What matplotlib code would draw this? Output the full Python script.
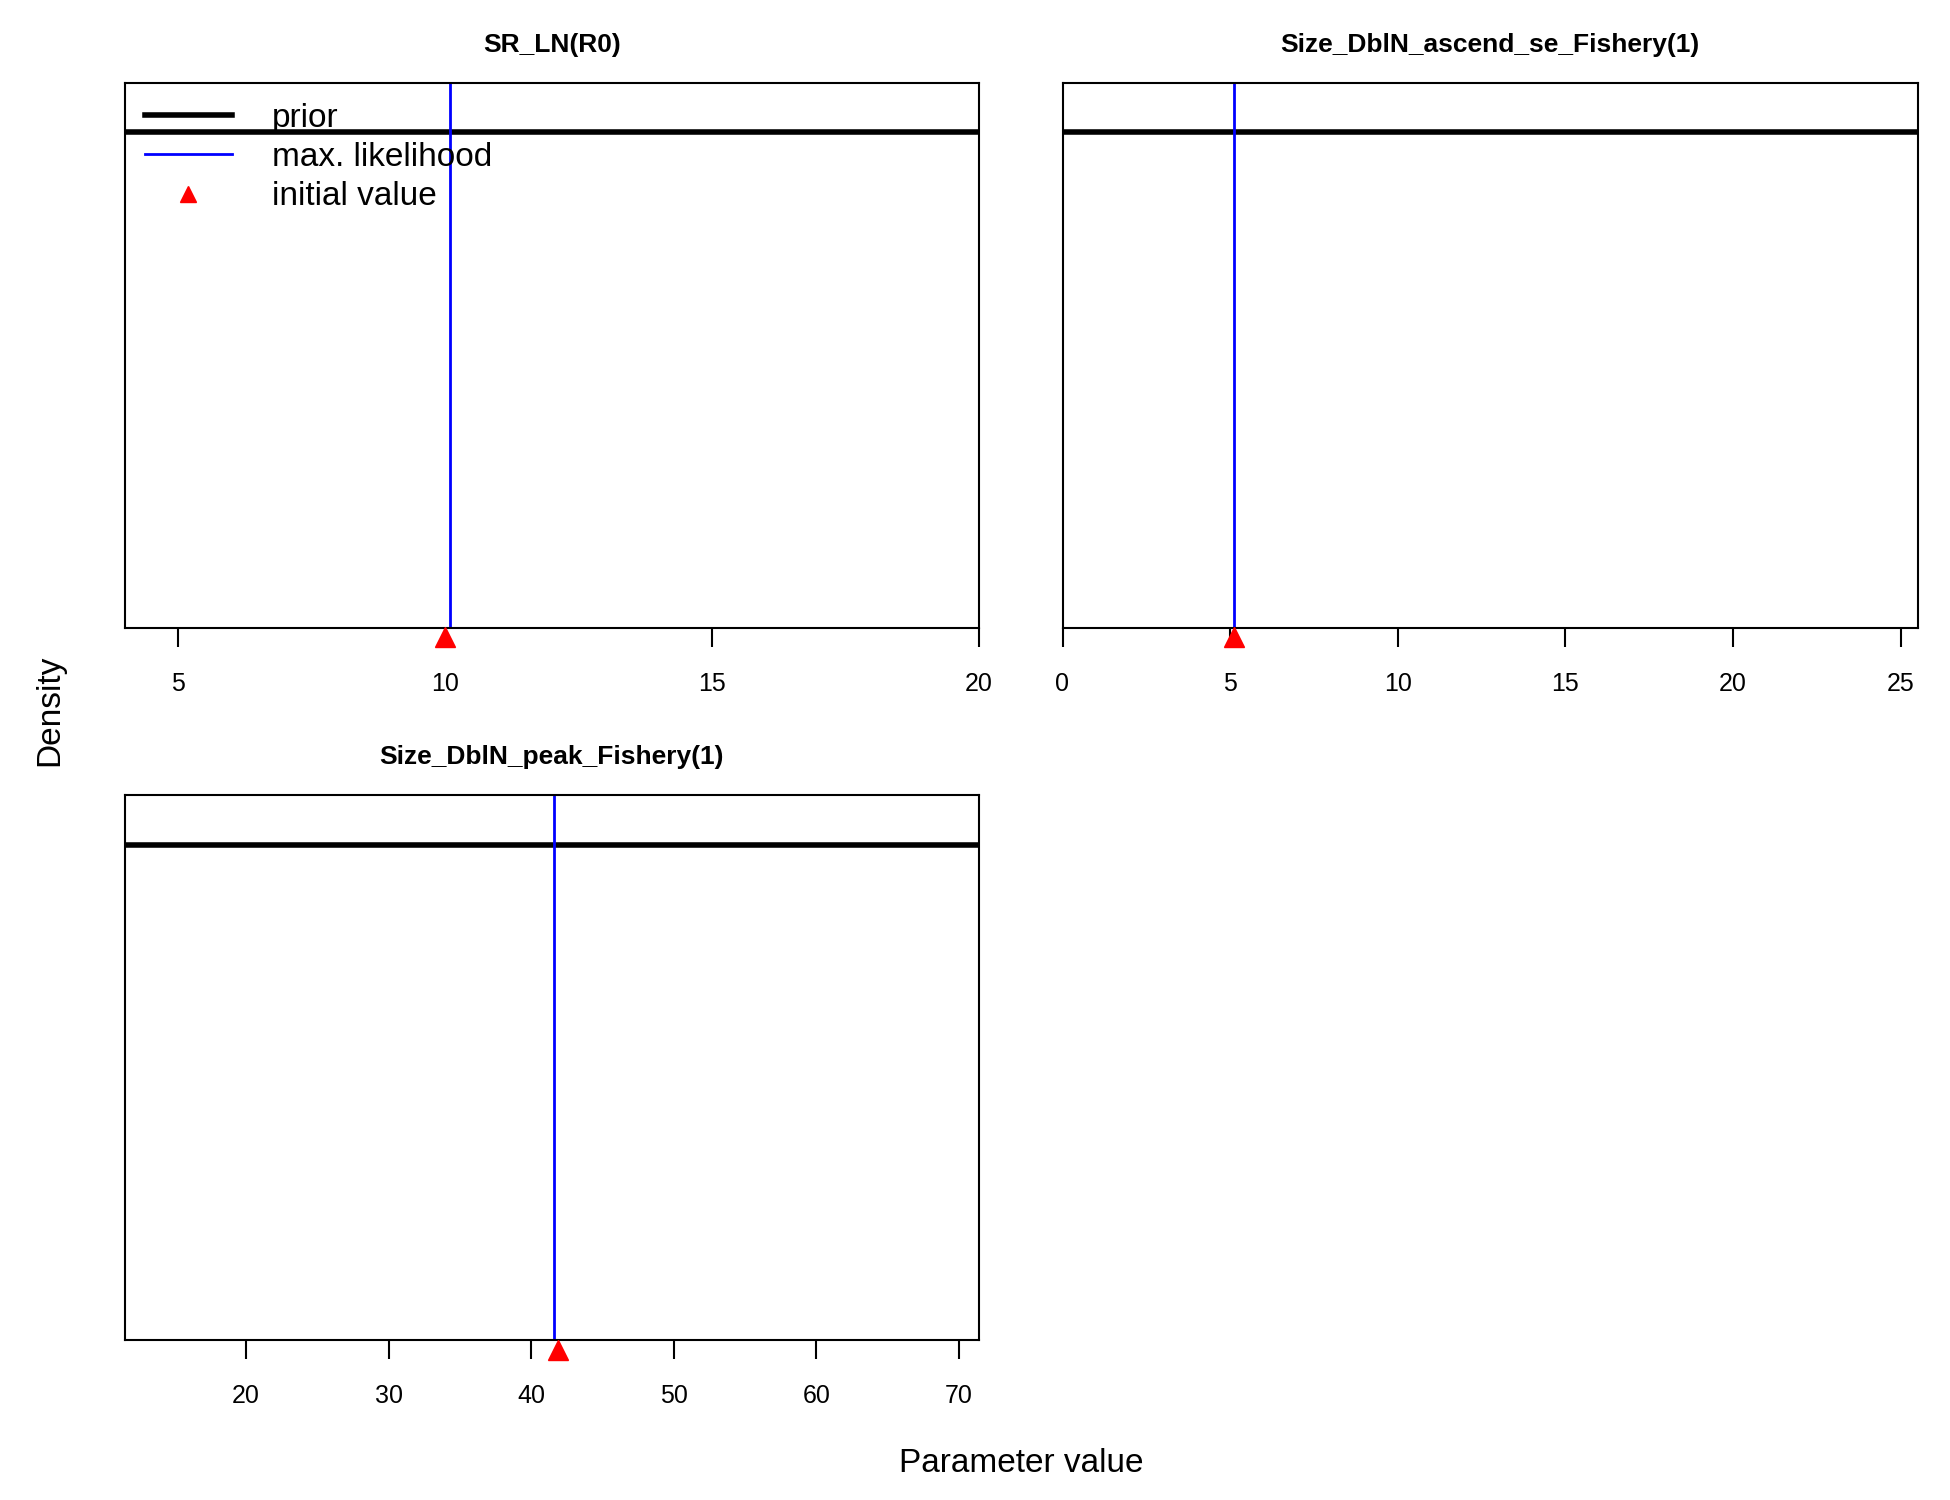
import matplotlib
matplotlib.use("Agg")
import matplotlib.pyplot as plt
from matplotlib.lines import Line2D

plt.rcParams['font.family'] = ['Liberation Sans', 'DejaVu Sans']

titles = ["SR_LN(R0)", "Size_DblN_ascend_se_Fishery(1)", "Size_DblN_peak_Fishery(1)"]
xlims = [(4.0, 20.0), (0.0, 25.5), (11.5, 71.4)]
xticks = [[5, 10, 15, 20], [0, 5, 10, 15, 20, 25], [20, 30, 40, 50, 60, 70]]
mle = [10.1, 5.1, 41.6]
init = [10.0, 5.1, 41.9]
prior_density = [1.0, 1.0, 1.0]

W, H = 1560, 1200
fig = plt.figure(figsize=(19.5, 15), dpi=100)
boxes = [(100, 66, 783, 502), (850, 66, 1534, 502), (100, 636, 783, 1072)]
for i, (x0, y0, x1, y1) in enumerate(boxes):
    ax = fig.add_axes([x0 / W, 1 - y1 / H, (x1 - x0) / W, (y1 - y0) / H])
    ax.set_xlim(*xlims[i])
    ax.set_ylim(0, 1.1)
    ax.plot(list(xlims[i]), [prior_density[i]] * 2, color='black', lw=4)
    ax.axvline(mle[i], color='blue', lw=2)
    ax.plot([init[i]], [-0.02], marker='^', color='red', ms=14, clip_on=False, ls='none', zorder=5)
    ax.set_yticks([])
    ax.set_xticks(xticks[i])
    ax.tick_params(axis='x', length=14, width=1.5, labelsize=18, pad=18)
    for s in ax.spines.values():
        s.set_linewidth(1.5)
    ax.set_title(titles[i], fontsize=19, fontweight='bold', pad=22)
    if i == 0:
        handles = [Line2D([], [], color='black', lw=4),
                   Line2D([], [], color='blue', lw=2),
                   Line2D([], [], color='red', marker='^', ls='none', ms=12)]
        ax.legend(handles, ["prior", "max. likelihood", "initial value"], loc='upper left',
                  frameon=False, fontsize=24, handlelength=2.6, borderaxespad=0.2,
                  labelspacing=0.25, handletextpad=1.2)

fig.text(40 / W, 1 - 568 / H, "Density", rotation=90, fontsize=24, ha='center', va='center')
fig.text(817 / W, 1 - 1171 / H, "Parameter value", fontsize=24, ha='center', va='center')
fig.savefig("out.png", dpi=100)
